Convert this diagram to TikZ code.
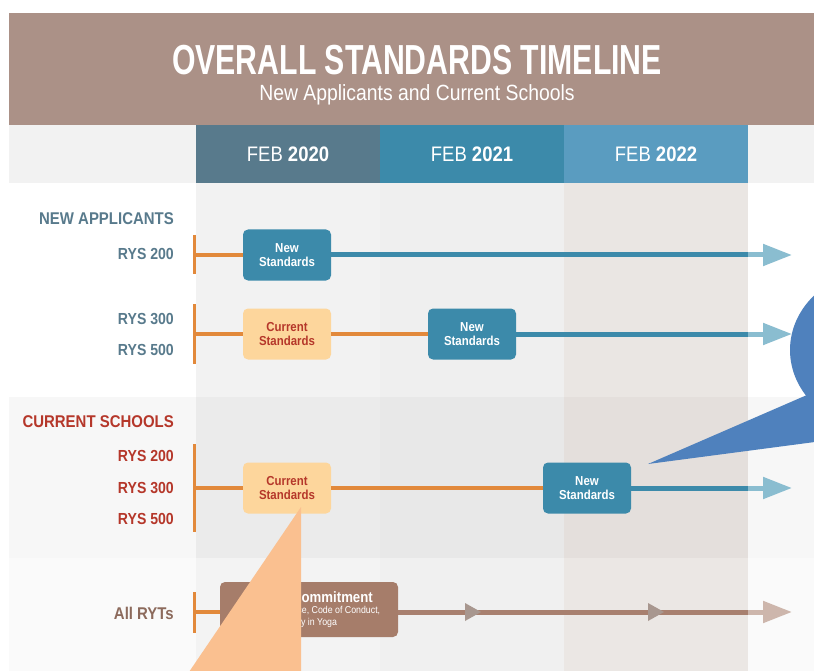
\documentclass[tikz,border=0pt]{standalone}
\usepackage{fontspec}
\setmainfont{Liberation Sans}[FakeStretch=0.88]
\newfontfamily\titlefont{Liberation Sans}[FakeStretch=0.72]
\usetikzlibrary{arrows.meta}
\definecolor{hdr}{HTML}{AB9187}
\definecolor{rowg}{HTML}{F2F2F2}
\definecolor{hA}{HTML}{587A8C}
\definecolor{hB}{HTML}{3C8AAA}
\definecolor{hC}{HTML}{5A9CC0}
\definecolor{teal}{HTML}{3C8AAA}
\definecolor{lteal}{HTML}{8ABDD0}
\definecolor{orng}{HTML}{E2893B}
\definecolor{curfill}{HTML}{FDD69C}
\definecolor{redtxt}{HTML}{B5372A}
\definecolor{bluelab}{HTML}{587A8C}
\definecolor{brownbox}{HTML}{A67D6A}
\definecolor{brownlab}{HTML}{8C6A5C}
\definecolor{brownline}{HTML}{A8806F}
\definecolor{midarr}{HTML}{A8978F}
\definecolor{endarr}{HTML}{CDB6AC}
\definecolor{calor}{HTML}{FAC090}
\definecolor{calbl}{HTML}{4F81BD}
\definecolor{sA1}{HTML}{F2F2F2}\definecolor{sA2}{HTML}{EFEFEF}\definecolor{sA3}{HTML}{EAE6E3}
\definecolor{sB0}{HTML}{F7F7F7}\definecolor{sB1}{HTML}{EBEBEB}\definecolor{sB2}{HTML}{E8E8E8}\definecolor{sB3}{HTML}{E4DFDC}
\definecolor{sC0}{HTML}{FAFAFA}\definecolor{sC1}{HTML}{F3F3F3}\definecolor{sC2}{HTML}{F0F0F0}\definecolor{sC3}{HTML}{EBE7E4}
\tikzset{
  hcell/.style={minimum width=184pt, minimum height=58pt, inner sep=0pt, text=white, font=\fontsize{21}{21}\selectfont},
  lab/.style={anchor=east, inner sep=0pt, font=\fontsize{16}{16}\selectfont\bfseries},
  seclab/.style={anchor=east, inner sep=0pt, font=\fontsize{17}{17}\selectfont\bfseries},
  stdbox/.style={rounded corners=5pt, minimum width=88pt, minimum height=51pt, inner sep=0pt, align=center, font=\fontsize{13}{14}\selectfont\bfseries},
  newbox/.style={stdbox, fill=teal, text=white},
  curbox/.style={stdbox, fill=curfill, text=redtxt},
  obar/.style={draw=orng, line width=3pt},
  oline/.style={draw=orng, line width=4pt},
  tline/.style={draw=teal, line width=5pt},
  ltline/.style={draw=lteal, line width=5pt, -{Triangle[length=29pt,width=21pt]}},
  bline/.style={draw=brownline, line width=5pt},
}
\begin{document}
\begin{tikzpicture}[x=1pt,y=-1pt]
\useasboundingbox (0,0) rectangle (814,671);
\clip (0,0) rectangle (814,671);
\fill[white] (0,0) rectangle (814,671);
% header band
\fill[hdr] (9,13) rectangle (814,125);
\fill[rowg] (9,125) rectangle (814,183);
% section 1
\fill[sA1] (196,183) rectangle (380,397);
\fill[sA2] (380,183) rectangle (564,397);
\fill[sA3] (564,183) rectangle (748,397);
% section 2
\fill[sB0] (9,397) rectangle (814,558);
\fill[sB1] (196,397) rectangle (380,558);
\fill[sB2] (380,397) rectangle (564,558);
\fill[sB3] (564,397) rectangle (748,558);
% section 3
\fill[sC0] (9,558) rectangle (814,671);
\fill[sC1] (196,558) rectangle (380,671);
\fill[sC2] (380,558) rectangle (564,671);
\fill[sC3] (564,558) rectangle (748,671);

% titles
\node[text=white, inner sep=0pt, anchor=base, font=\titlefont\bfseries\fontsize{42}{42}\selectfont] (title) at (417,75) {OVERALL STANDARDS TIMELINE};
\node[text=white, inner sep=0pt, anchor=base, font=\fontsize{22}{22}\selectfont] (subtitle) at (417,101) {New Applicants and Current Schools};

% column headers
\node[hcell, fill=hA] (h1) at (288,154) {FEB \textbf{2020}};
\node[hcell, fill=hB] (h2) at (472,154) {FEB \textbf{2021}};
\node[hcell, fill=hC] (h3) at (656,154) {FEB \textbf{2022}};

% labels
\node[seclab, text=bluelab] (na) at (174,219) {NEW APPLICANTS};
\node[lab, text=bluelab] (na200) at (174,254) {RYS 200};
\node[lab, text=bluelab] (na300) at (174,319) {RYS 300};
\node[lab, text=bluelab] (na500) at (174,350) {RYS 500};
\node[seclab, text=redtxt] (cs) at (174,422) {CURRENT SCHOOLS};
\node[lab, text=redtxt] (cs200) at (174,456) {RYS 200};
\node[lab, text=redtxt] (cs300) at (174,488) {RYS 300};
\node[lab, text=redtxt] (cs500) at (174,519) {RYS 500};
\node[seclab, text=brownlab] (all) at (174,613) {All RYTs};

% row 1
\coordinate (s1) at (194,255);
\draw[obar] (194,235) -- (194,274);
\node[newbox] (n1) at (287,255) {New\\Standards};
\draw[oline] (s1) -- (n1.west);
\coordinate (e1) at (748,255);
\coordinate (t1) at (792,255);
\draw[tline] (n1.east) -- (e1);
\draw[ltline] (e1) -- (t1);

% row 2
\coordinate (s2) at (194,334);
\draw[obar] (194,304) -- (194,364);
\node[curbox] (c2) at (287,334) {Current\\Standards};
\node[newbox] (n2) at (472,334) {New\\Standards};
\draw[oline] (s2) -- (c2.west);
\draw[oline] (c2.east) -- (n2.west);
\coordinate (e2) at (748,334);
\coordinate (t2) at (792,334);
\draw[tline] (n2.east) -- (e2);
\draw[ltline] (e2) -- (t2);

% row 3
\coordinate (s3) at (194,488);
\draw[obar] (194,444) -- (194,532);
\node[curbox] (c3) at (287,488) {Current\\Standards};
\node[newbox] (n3) at (587,488) {New\\Standards};
\draw[oline] (s3) -- (c3.west);
\draw[oline] (c3.east) -- (n3.west);
\coordinate (e3) at (748,488);
\coordinate (t3) at (792,488);
\draw[tline] (n3.east) -- (e3);
\draw[ltline] (e3) -- (t3);

% row 4
\coordinate (s4) at (194,612);
\draw[obar] (194,592) -- (194,633);
\node[rounded corners=5pt, fill=brownbox, text=white, minimum width=178pt, minimum height=55pt, inner sep=0pt, align=center] (bb) at (309,609.5)
  {\fontsize{15}{16}\selectfont\bfseries Ethical Commitment\\[-1pt]
   \fontsize{10}{12}\selectfont Scope of Practice, Code of Conduct,\\
   \fontsize{10}{12}\selectfont Equity in Yoga};
\draw[oline] (s4) -- (bb.west |- s4);
\coordinate (m1) at (481,612);
\coordinate (m2) at (664,612);
\coordinate (e4) at (748,612);
\coordinate (t4) at (792,612);
\draw[bline] (bb.east |- m1) -- (e4);
\fill[midarr] (m1) -- ++(-16,-9) -- ++(0,18) -- cycle;
\fill[midarr] (m2) -- ++(-16,-9) -- ++(0,18) -- cycle;
\draw[draw=endarr, line width=5pt, -{Triangle[length=29pt,width=21pt]}] (e4) -- (t4);

% callouts
\fill[calor] (301,507) -- (301,700) -- (170,700) -- cycle;
\fill[calbl] (880,350) ellipse [x radius=90, y radius=80];
\fill[calbl] (648,464) -- (830,385) -- (830,440) -- cycle;
\end{tikzpicture}
\end{document}
